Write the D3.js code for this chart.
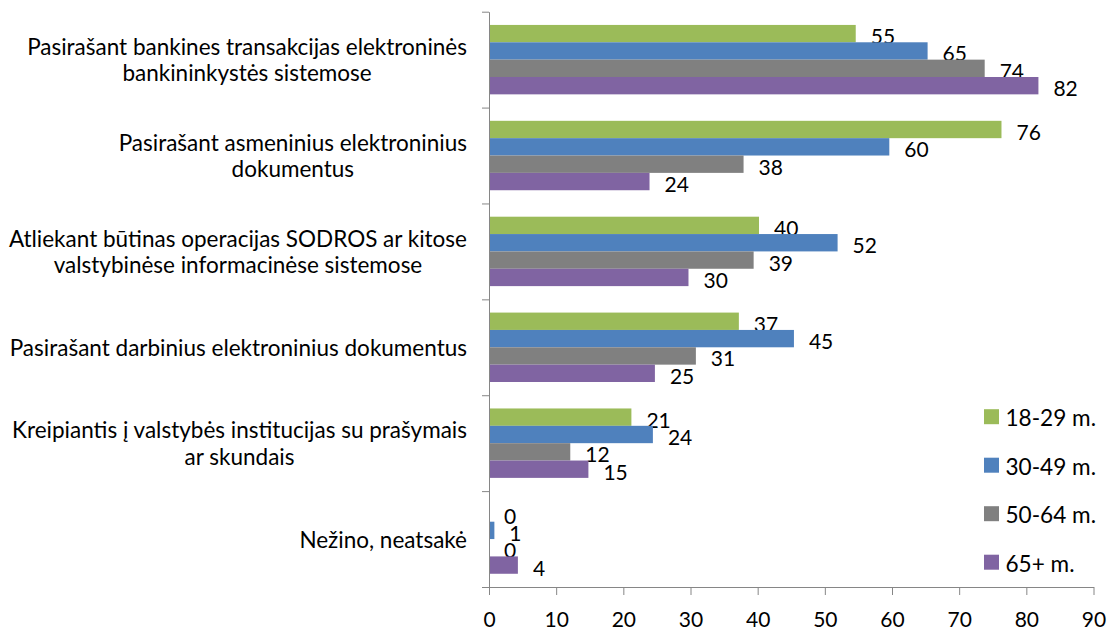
<!DOCTYPE html>
<html><head><meta charset="utf-8">
<script src="https://cdn.jsdelivr.net/npm/d3@7"></script>
<style>
body{margin:0;background:#fff}
svg{display:block}
text{font-family:Lato,"Open Sans",sans-serif;fill:#000}
</style>
</head><body>
<svg id="c" width="1108" height="632"></svg>
<script>
const categories = ["bank","asm","sodra","darb","kreip","nezino"];
const categoryLines = [
  ["Pasirašant bankines transakcijas elektroninės","bankininkystės sistemose"],
  ["Pasirašant asmeninius elektroninius","dokumentus"],
  ["Atliekant būtinas operacijas SODROS ar kitose","valstybinėse informacinėse sistemose"],
  ["Pasirašant darbinius elektroninius dokumentus"],
  ["Kreipiantis į valstybės institucijas su prašymais","ar skundais"],
  ["Nežino, neatsakė"]
];
const seriesNames = ["18-29 m.","30-49 m.","50-64 m.","65+ m."];
const age18_29 = [54.6, 76.3, 40.2, 37.2, 21.2, 0];
const age30_49 = [65.3, 59.6, 51.9, 45.4, 24.4, 0.8];
const age50_64 = [73.8, 37.9, 39.4, 30.8, 12.1, 0];
const age65 = [81.8, 23.9, 29.7, 24.7, 14.8, 4.3];
const seriesValues = [age18_29, age30_49, age50_64, age65];
const colors = ["#9BBB59","#4F81BD","#808080","#8064A2"];
const xTicks = [0,10,20,30,40,50,60,70,80,90];

const FS = 21, FS_CAT = 22.5, FS_LEG = 22.6;
const svg = d3.select("#c");
svg.append("rect").attr("width",1108).attr("height",632).attr("fill","#fff");

const x = d3.scaleLinear().domain([0,90]).range([489,1093.5]);
const y0 = d3.scaleBand().domain(categories).range([11.7,587]).paddingInner(0.276).paddingOuter(0.138);
const y1 = d3.scaleBand().domain(seriesNames).range([0,y0.bandwidth()]);
const yb = d3.scaleLinear().domain([0,categories.length]).range([11.7,587]);

// bars
const groups = svg.append("g").selectAll("g").data(categories).join("g")
  .attr("transform", c => `translate(0,${y0(c)})`);
groups.each(function(c, ci){
  const g = d3.select(this);
  seriesNames.forEach((s, si) => {
    const v = seriesValues[si][ci];
    g.append("rect").attr("x", x(0)).attr("y", y1(s))
      .attr("width", x(v) - x(0)).attr("height", y1.bandwidth())
      .attr("fill", colors[si]);
    g.append("text").attr("x", x(v) + 15).attr("y", y1(s) + y1.bandwidth()/2 + 2)
      .attr("dominant-baseline","central").attr("font-size", FS)
      .text(Math.round(v));
  });
});

// x axis
const xa = svg.append("g").attr("transform","translate(0,587)")
  .call(d3.axisBottom(x).tickValues(xTicks).tickSize(8).tickSizeOuter(0).tickPadding(17.5));
xa.selectAll("text").attr("font-size", FS).attr("font-family","Lato").attr("fill","#000");
xa.selectAll("path,line").attr("stroke","#868686");

// y axis
const ya = svg.append("g").attr("transform",`translate(${x(0)},0)`)
  .call(d3.axisLeft(yb).tickValues(d3.range(categories.length+1)).tickFormat("").tickSize(7).tickSizeOuter(0));
ya.selectAll("path,line").attr("stroke","#868686");

// category labels
const lh = 26.5;
categories.forEach((c, ci) => {
  const lines = categoryLines[ci];
  const cy = y0(c) + y0.bandwidth()/2;
  const t = svg.append("text").attr("font-size", FS_CAT).attr("text-anchor","middle");
  const spans = lines.map((ln, li) => t.append("tspan")
    .attr("y", cy + (li - (lines.length-1)/2)*lh)
    .attr("dominant-baseline","central").text(ln));
  const maxW = d3.max(spans, s => s.node().getComputedTextLength());
  spans.forEach(s => s.attr("x", 467 - maxW/2));
});

// legend
const leg = svg.append("g");
seriesNames.forEach((s, i) => {
  const cy = 416.7 + i*48.5;
  leg.append("rect").attr("x",984).attr("y",cy-7.5).attr("width",15).attr("height",15).attr("fill",colors[i]);
  leg.append("text").attr("x",1005.5).attr("y",cy+1).attr("dominant-baseline","central")
    .attr("font-size",FS_LEG).text(s);
});
</script>
</body></html>
